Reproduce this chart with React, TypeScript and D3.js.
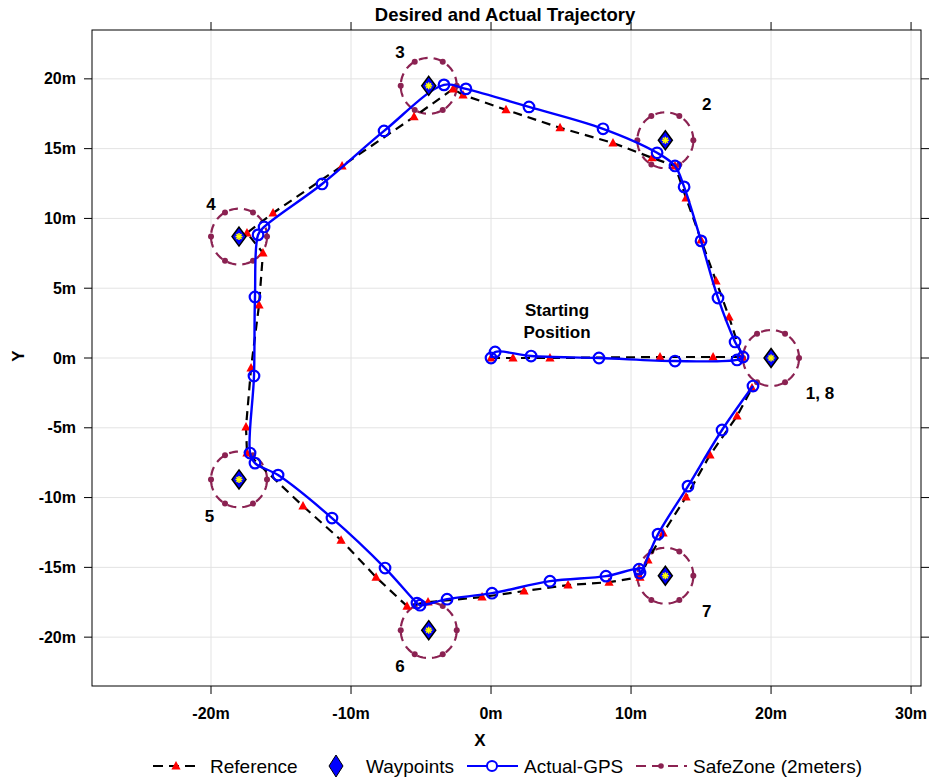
import React from "react";
import * as d3 from "d3";

const xTicks = [-20, -10, 0, 10, 20, 30];
const yTicks = [-20, -15, -10, -5, 0, 5, 10, 15, 20];

const wpX = [20, 12.45, -4.45, -18.0, -18.0, -4.45, 12.45];
const wpY = [0, 15.6, 19.5, 8.7, -8.7, -19.5, -15.6];
const wpLabels = ["1, 8", "2", "3", "4", "5", "6", "7"];
const wpLabelX = [23.5, 15.4, -6.5, -20.0, -20.1, -6.5, 15.4];
const wpLabelY = [-2.5, 18.2, 21.9, 11.0, -11.3, -22.1, -18.1];

const refX = [0, 1.57, 4.21, 12.07, 15.86, 17.93, 17.0, 16.07, 15.0, 13.93, 13.14, 11.5, 8.71, 4.93, 1.07, -2.0, -2.71, -5.5, -10.64, -15.57, -17.43, -16.29, -16.57, -17.14, -17.5, -17.43, -13.43, -10.71, -8.21, -6.0, -4.5, -0.64, 2.36, 5.5, 8.43, 10.64, 11.21, 12.29, 13.93, 15.64, 17.57, 18.64];
const refY = [0, 0, 0, 0.07, 0.07, 0.07, 2.94, 5.52, 8.46, 11.47, 13.76, 14.34, 15.41, 16.49, 17.78, 18.85, 19.28, 17.28, 13.76, 10.39, 8.96, 7.53, 3.8, -0.72, -4.95, -6.81, -10.61, -13.05, -15.7, -17.78, -17.49, -17.13, -16.7, -16.27, -16.06, -15.7, -14.48, -12.54, -9.96, -6.95, -4.16, -2.15];

const gpsX = [0, 0.29, 2.86, 7.71, 13.14, 17.57, 18.0, 17.43, 16.21, 15.0, 13.79, 13.14, 11.86, 8.0, 2.71, -1.79, -3.36, -7.64, -12.07, -16.21, -16.64, -16.86, -16.93, -17.21, -16.86, -15.21, -11.36, -7.57, -5.29, -5.07, -3.14, 0.07, 4.21, 8.21, 10.57, 10.64, 11.93, 14.07, 16.5, 18.71];
const gpsY = [0, 0.43, 0.14, 0, -0.22, -0.14, 0.07, 1.15, 4.3, 8.39, 12.26, 13.76, 14.7, 16.42, 17.99, 19.28, 19.57, 16.27, 12.47, 9.39, 8.82, 4.37, -1.29, -6.81, -7.53, -8.39, -11.47, -15.05, -17.56, -17.71, -17.28, -16.85, -15.99, -15.63, -15.13, -15.41, -12.62, -9.18, -5.16, -2.01];

const safeRadius = 2;
const safeDotAngles = [0, 60, 120, 180, 240, 300];

const legendLabels = ["Reference", "Waypoints", "Actual-GPS", "SafeZone (2meters)"];

const FONT = "'Liberation Sans', Arial, Helvetica, sans-serif";
const W = 930, H = 780;
const L = 92, R = 921, T = 30, B = 686;

const BLUE = "#0000ff";
const MAG = "#8b2252";

const tri = "M0,-5 L4.6,3.5 L-4.6,3.5 Z";
const diamond = (w: number, h: number) => `M0,${-h} L${w},0 L0,${h} L${-w},0 Z`;

export default function App() {
  const x = d3.scaleLinear().domain([-28.5, 30.71]).range([L, R]);
  const y = d3.scaleLinear().domain([-23.5, 23.5]).range([B, T]);

  const refPts: [number, number][] = refX.map((v, i) => [x(v), y(refY[i])]);
  const gpsPts: [number, number][] = gpsX.map((v, i) => [x(v), y(gpsY[i])]);
  const refLine = d3.line().curve(d3.curveLinear)(refPts) || "";
  const gpsLine = d3.line().curve(d3.curveCatmullRom.alpha(0.5))(gpsPts) || "";

  const circleGen = (cx: number, cy: number) => {
    const pts: [number, number][] = d3.range(0, 361, 3).map((a) => {
      const t = (a * Math.PI) / 180;
      return [x(cx + safeRadius * Math.cos(t)), y(cy + safeRadius * Math.sin(t))];
    });
    return d3.line()(pts) || "";
  };

  const legendY = 766;

  return (
    <div style={{ position: "absolute", left: 0, top: 0 }}>
      <svg width={W} height={H} style={{ display: "block", background: "#fff" }} fontFamily={FONT}>
        <rect x={0} y={0} width={W} height={H} fill="#fff" />
        {/* grid */}
        {xTicks.map((t) => (
          <line key={"gx" + t} x1={x(t)} x2={x(t)} y1={T} y2={B} stroke="#e3e3e3" strokeWidth={1} />
        ))}
        {yTicks.map((t) => (
          <line key={"gy" + t} x1={L} x2={R} y1={y(t)} y2={y(t)} stroke="#e3e3e3" strokeWidth={1} />
        ))}
        {/* frame */}
        <rect x={L} y={T} width={R - L} height={B - T} fill="none" stroke="#000" strokeWidth={1} />
        {xTicks.map((t) => (
          <g key={"tx" + t}>
            <line x1={x(t)} x2={x(t)} y1={B} y2={B + 8} stroke="#000" />
            <line x1={x(t)} x2={x(t)} y1={T} y2={T - 8} stroke="#000" />
            <text x={x(t)} y={719} textAnchor="middle" fontSize={16} fontWeight="bold">
              {t + "m"}
            </text>
          </g>
        ))}
        {yTicks.map((t) => (
          <g key={"ty" + t}>
            <line x1={L} x2={L - 8} y1={y(t)} y2={y(t)} stroke="#000" />
            <line x1={R} x2={R + 8} y1={y(t)} y2={y(t)} stroke="#000" />
            <text x={76} y={y(t) + 5.5} textAnchor="end" fontSize={16} fontWeight="bold">
              {t + "m"}
            </text>
          </g>
        ))}
        {/* titles */}
        <text x={505} y={21} textAnchor="middle" fontSize={18.5} fontWeight="bold">
          Desired and Actual Trajectory
        </text>
        <text x={480} y={746} textAnchor="middle" fontSize={17} fontWeight="bold">
          X
        </text>
        <text transform={`translate(24,356) rotate(-90)`} textAnchor="middle" fontSize={17} fontWeight="bold">
          Y
        </text>

        {/* safe zones */}
        {wpX.map((wx, i) => (
          <g key={"sz" + i}>
            <path d={circleGen(wx, wpY[i])} fill="none" stroke={MAG} strokeWidth={2.2} strokeDasharray="9,6" />
            {safeDotAngles.map((a) => {
              const t = (a * Math.PI) / 180;
              return (
                <circle key={a} cx={x(wx + safeRadius * Math.cos(t))} cy={y(wpY[i] + safeRadius * Math.sin(t))} r={3} fill={MAG} />
              );
            })}
          </g>
        ))}

        {/* reference */}
        <path d={refLine} fill="none" stroke="#000" strokeWidth={2.2} strokeDasharray="9,6" />
        {refPts.map((p, i) => (
          <path key={"r" + i} d={tri} transform={`translate(${p[0]},${p[1]})`} fill="#ff0000" />
        ))}

        {/* GPS */}
        <path d={gpsLine} fill="none" stroke={BLUE} strokeWidth={2.4} />
        {gpsPts.map((p, i) => (
          <circle key={"g" + i} cx={p[0]} cy={p[1]} r={5.3} fill="none" stroke={BLUE} strokeWidth={2.2} />
        ))}

        {/* waypoints */}
        {wpX.map((wx, i) => {
          const cx = x(wx), cy = y(wpY[i]);
          return (
            <g key={"wp" + i} transform={`translate(${cx},${cy})`}>
              <path d={diamond(7, 9.5)} fill={BLUE} stroke="#000" strokeWidth={1.5} />
              {[0, 45, 90, 135].map((a) => (
                <line key={a} x1={-3.5} x2={3.5} y1={0} y2={0} transform={`rotate(${a})`} stroke="#ffff00" strokeWidth={1.5} />
              ))}
            </g>
          );
        })}
        {wpLabels.map((lab, i) => (
          <text key={"wl" + i} x={x(wpLabelX[i])} y={y(wpLabelY[i]) + 6} textAnchor="middle" fontSize={17} fontWeight="bold">
            {lab}
          </text>
        ))}
        <text x={557} y={316} textAnchor="middle" fontSize={17} fontWeight="bold">Starting</text>
        <text x={557} y={338} textAnchor="middle" fontSize={17} fontWeight="bold">Position</text>

        {/* legend */}
        <g fontSize={19}>
          <line x1={153} x2={200} y1={legendY} y2={legendY} stroke="#000" strokeWidth={2} strokeDasharray="10,6" />
          <path d={tri} transform={`translate(176,${legendY})`} fill="#ff0000" />
          <text x={210} y={legendY + 7}>{legendLabels[0]}</text>

          <path d={diamond(7, 11)} transform={`translate(336,${legendY})`} fill={BLUE} stroke="#000" strokeWidth={1} />
          <text x={366} y={legendY + 7}>{legendLabels[1]}</text>

          <line x1={467} x2={518} y1={legendY} y2={legendY} stroke={BLUE} strokeWidth={2} />
          <circle cx={492} cy={legendY} r={5} fill="#fff" stroke={BLUE} strokeWidth={2} />
          <text x={524} y={legendY + 7}>{legendLabels[2]}</text>

          <line x1={636} x2={687} y1={legendY} y2={legendY} stroke={MAG} strokeWidth={2} strokeDasharray="10,6" />
          <circle cx={661} cy={legendY} r={2.8} fill={MAG} />
          <text x={693} y={legendY + 7}>{legendLabels[3]}</text>
        </g>
      </svg>
    </div>
  );
}
